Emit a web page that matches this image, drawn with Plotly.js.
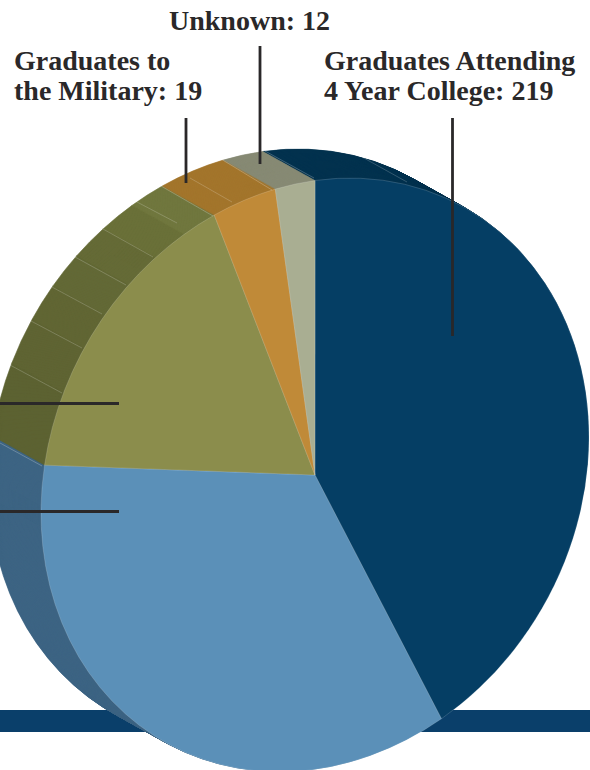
<!DOCTYPE html>
<html>
<head>
<meta charset="utf-8">
<script src="https://cdn.plot.ly/plotly-3.0.1.min.js"></script>
<style>html,body{margin:0;padding:0;background:#fff;overflow:hidden}</style>
</head>
<body>
<div id="chart" style="width:590px;height:770px"></div>
<script>
// Data (the two middle labels are cut off at the left edge)
const categories = ['Graduates Attending 4 Year College', 'Second group', 'Third group', 'Graduates to the Military', 'Unknown'];
const values = [219, 182, 85, 19, 12];
const frontColors = ['#053e64', '#5b90b8', '#8b8d4c', '#c08a38', '#a9ae92'];

// The extruded side of the disc: same totals, the third group is shown in its printed facets.
const sideLabels = ['Graduates Attending 4 Year College', 'Second group', 'Third group f1', 'Third group f2', 'Third group f3', 'Third group f4', 'Third group f5', 'Third group f6', 'Third group f7', 'Graduates to the Military', 'Unknown'];
const sideValues = [219, 182, 20.5, 13, 10.5, 10.5, 10.3, 10.2, 10, 19, 12];
const sideColors = ['#03324f', '#3d6483', '#5d6232', '#5f6433', '#616634', '#636936', '#656b37', '#6a7039', '#70773e', '#a3752c', '#878a74'];

const W = 590, H = 770;
const px = x => x / W, py = y => 1 - y / H;
const R = 275, C = {x: 315, y: 475};
const BACK = {x: 263, y: 446};
const LAYERS = 60;
const domain = {x: [px(C.x - R), px(C.x + R)], y: [py(C.y + R), py(C.y - R)]};
const pieStyle = {
  type: 'pie', sort: false, direction: 'clockwise', rotation: -3.8,
  textinfo: 'none', hoverinfo: 'skip', showlegend: false, domain: domain
};
const traces = [];
const centres = [];
for (let i = 0; i < LAYERS; i++) {
  traces.push(Object.assign({}, pieStyle, {labels: sideLabels, values: sideValues,
    marker: {colors: sideColors, line: {color: sideColors, width: 0.6}}}));
  const k = i / LAYERS;
  centres.push({x: BACK.x + (C.x - BACK.x) * k, y: BACK.y + (C.y - BACK.y) * k});
}
traces.push(Object.assign({}, pieStyle, {labels: categories, values: values,
  marker: {colors: frontColors, line: {color: 'rgba(255,255,255,0.3)', width: 0.5}}}));
centres.push(C);

function seg(x0, y0, x1, y1, color, width) {
  return {type: 'line', xref: 'paper', yref: 'paper', layer: 'above',
    x0: px(x0), y0: py(y0), x1: px(x1), y1: py(y1), line: {color: color, width: width}};
}
const ink = '#2a2829', facet = 'rgba(255,255,255,0.28)', edge = 'rgba(255,255,255,0.4)';
const shapes = [
  {type: 'rect', xref: 'paper', yref: 'paper', layer: 'below',
   x0: 0, x1: 1, y0: py(732), y1: py(710), fillcolor: '#0a3f6a', line: {width: 0}},
  seg(137, 202, 177, 223, facet, 0.7),
  seg(103, 229, 153, 257, facet, 0.7),
  seg(75, 257, 126, 285, facet, 0.7),
  seg(52, 287, 102, 314, facet, 0.7),
  seg(31, 321, 82, 348, facet, 0.7),
  seg(10, 365, 62, 393, facet, 0.7),
  seg(190, 178, 232, 202, facet, 0.7),
  seg(362, 157, 407, 182, facet, 0.7),
  seg(265, 151, 314, 178, edge, 0.6),
  seg(221, 159, 272, 190, edge, 0.6),
  seg(161, 186, 213, 216, edge, 0.6),
  seg(0, 443, 42, 466, edge, 0.6),
  seg(260, 46, 260, 164, ink, 2.8),
  seg(186, 118, 186, 183, ink, 2.8),
  seg(452.5, 118, 452.5, 336, ink, 2.8),
  seg(0, 403.5, 119, 403.5, ink, 2.8),
  seg(0, 511.5, 119, 511.5, ink, 2.8)
];

function label(text, x, y) {
  return {text: text, xref: 'paper', yref: 'paper', x: px(x), y: py(y),
    xanchor: 'left', yanchor: 'middle', align: 'left', showarrow: false,
    font: {family: '"Liberation Serif", serif', size: 28, color: ink}};
}
const annotations = [
  label('<b>Unknown: 12</b>', 167, 20),
  label('<b>Graduates to</b>', 12, 60),
  label('<b>the Military: 19</b>', 12, 91),
  label('<b>Graduates Attending</b>', 322, 60),
  label('<b>4 Year College: 219</b>', 322, 91)
];

const layout = {
  width: W, height: H, margin: {l: 0, r: 0, t: 0, b: 0},
  paper_bgcolor: '#fff', plot_bgcolor: '#fff',
  shapes: shapes, annotations: annotations
};

// The discs in the reference are tilted ellipses: apply the same affine map to every pie.
const a = 273.4 / R, b = -18.25 / R, c = -18.25 / R, d = 296.4 / R;

Plotly.newPlot('chart', traces, layout, {staticPlot: true, displayModeBar: false}).then(gd => {
  gd.querySelectorAll('.pielayer .trace').forEach((g, i) => {
    const t = centres[i];
    const e = t.x - (a * C.x + c * C.y), f = t.y - (b * C.x + d * C.y);
    g.setAttribute('transform', `matrix(${a} ${b} ${c} ${d} ${e} ${f})`);
  });
});
</script>
</body>
</html>
